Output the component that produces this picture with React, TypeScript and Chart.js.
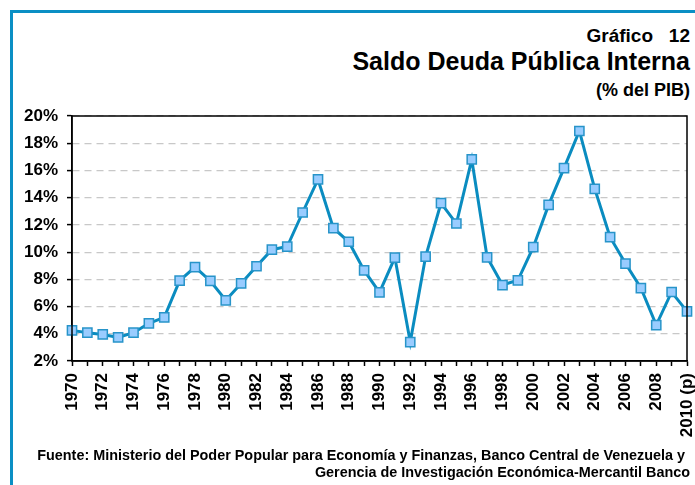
import React, { useEffect, useRef } from "react";
import { Chart, registerables } from "chart.js";

Chart.register(...registerables);

const years: string[] = [
  "1970", "1971", "1972", "1973", "1974", "1975", "1976", "1977", "1978", "1979",
  "1980", "1981", "1982", "1983", "1984", "1985", "1986", "1987", "1988", "1989",
  "1990", "1991", "1992", "1993", "1994", "1995", "1996", "1997", "1998", "1999",
  "2000", "2001", "2002", "2003", "2004", "2005", "2006", "2007", "2008", "2009",
  "2010 (p)",
];

const deudaInterna: number[] = [
  4.25, 4.08, 3.95, 3.73, 4.08, 4.76, 5.2, 7.9, 8.9, 7.88,
  6.46, 7.7, 8.96, 10.18, 10.41, 12.91, 15.34, 11.76, 10.76, 8.66,
  7.04, 9.6, 3.39, 9.67, 13.6, 12.1, 16.81, 9.62, 7.58, 7.93,
  10.36, 13.47, 16.17, 18.9, 14.65, 11.1, 9.16, 7.36, 4.64, 7.07,
  5.65,
];

const yMin = 2;
const yMax = 20;
const yStep = 2;

const FONT = "'Liberation Sans', Arial, sans-serif";

const frameBorder = {
  id: "frameBorder",
  afterDraw(chart: any) {
    const { ctx, chartArea } = chart;
    ctx.save();
    ctx.strokeStyle = "#000000";
    ctx.lineWidth = 1.5;
    ctx.strokeRect(chartArea.left, chartArea.top, chartArea.right - chartArea.left, chartArea.bottom - chartArea.top);
    ctx.restore();
  },
};

export default function App() {
  const canvasRef = useRef<HTMLCanvasElement | null>(null);

  useEffect(() => {
    if (!canvasRef.current) return;
    const chart = new Chart(canvasRef.current, {
      type: "line",
      data: {
        labels: years,
        datasets: [
          {
            data: deudaInterna,
            borderColor: "#0a8cc0",
            borderWidth: 3,
            pointStyle: "rect",
            pointRadius: 6.5,
            pointBackgroundColor: "#99ccff",
            pointBorderColor: "#2794c9",
            pointBorderWidth: 1.5,
            tension: 0,
          },
        ],
      },
      options: {
        animation: false,
        responsive: false,
        maintainAspectRatio: false,
        layout: { padding: { top: 8, right: 8, left: 0, bottom: 0 } },
        plugins: {
          legend: { display: false },
          tooltip: { enabled: false },
        },
        scales: {
          x: {
            offset: false,
            grid: {
              drawOnChartArea: false,
              drawTicks: true,
              tickLength: 5,
              tickColor: "#000000",
              tickWidth: 1.5,
            },
            border: { display: true, color: "#000000", width: 1.5 },
            ticks: {
              autoSkip: false,
              minRotation: 90,
              maxRotation: 90,
              padding: 7,
              color: "#000000",
              font: { family: FONT, size: 17, weight: "bold" },
              callback: (_v: any, i: number) => (i % 2 === 0 ? years[i] : ""),
            },
            afterFit: (scale: any) => {
              scale.height = 87;
              scale.paddingLeft = 0;
              scale.paddingRight = 0;
            },
          },
          y: {
            min: yMin,
            max: yMax,
            grid: {
              color: "#c8c8c8",
              lineWidth: 1.2,
              drawTicks: true,
              tickLength: 5,
              tickColor: "#000000",
              tickWidth: 1.5,
            },
            border: { display: true, color: "#000000", width: 1.5, dash: [7, 5] },
            ticks: {
              stepSize: yStep,
              padding: 9,
              color: "#000000",
              font: { family: FONT, size: 17, weight: "bold" },
              callback: (v: any) => `${v}%`,
            },
            afterFit: (scale: any) => {
              scale.width = 72;
              scale.paddingTop = 0;
              scale.paddingBottom = 0;
            },
          },
        },
      },
      plugins: [frameBorder],
    });
    return () => chart.destroy();
  }, []);

  const textBase: React.CSSProperties = {
    position: "absolute",
    right: 5,
    fontFamily: FONT,
    fontWeight: "bold",
    color: "#000",
    whiteSpace: "nowrap",
    textAlign: "right",
    lineHeight: 1,
  };

  return (
    <div
      style={{
        position: "fixed",
        left: 0,
        top: 0,
        width: 695,
        height: 485,
        overflow: "hidden",
        background: "#fff",
      }}
    >
      <div
        style={{
          position: "absolute",
          left: 10,
          top: 10,
          width: 720,
          height: 520,
          borderLeft: "3px solid #0a8fc4",
          borderTop: "3px solid #0a8fc4",
        }}
      />
      <div style={{ ...textBase, top: 26, fontSize: 19 }}>Gráfico&nbsp;&nbsp; 12</div>
      <div style={{ ...textBase, top: 49, fontSize: 25 }}>Saldo Deuda Pública Interna</div>
      <div style={{ ...textBase, top: 81, fontSize: 18 }}>(% del PIB)</div>
      <canvas
        ref={canvasRef}
        width={695}
        height={340}
        style={{ position: "absolute", left: 0, top: 108, width: 695, height: 340 }}
      />
      <div style={{ ...textBase, top: 447, right: 10, fontSize: 14.4, lineHeight: "17px" }}>
        Fuente: Ministerio del Poder Popular para Economía y Finanzas, Banco Central de Venezuela y
      </div>
      <div style={{ ...textBase, top: 464, fontSize: 14.4, lineHeight: "17px" }}>
        Gerencia de Investigación Económica-Mercantil Banco
      </div>
    </div>
  );
}
